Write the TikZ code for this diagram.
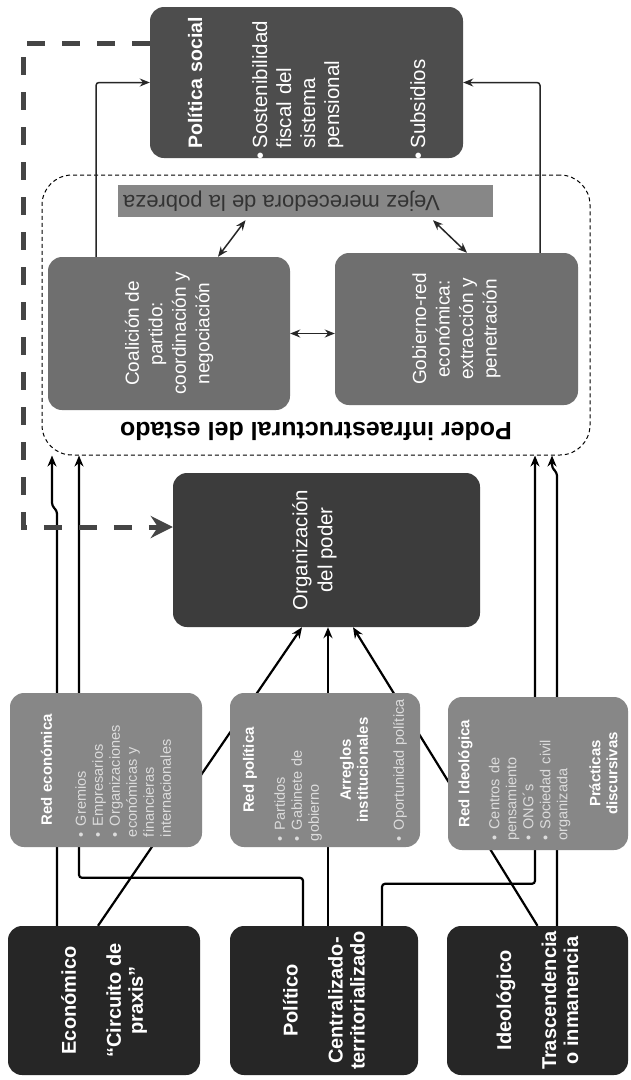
\documentclass[tikz,border=0pt]{standalone}
\usepackage{fontspec}
\setmainfont{Liberation Sans}
\usetikzlibrary{arrows.meta,backgrounds}
\definecolor{boxblack}{HTML}{262626}
\definecolor{orgcol}{HTML}{3C3C3C}
\definecolor{pscol}{HTML}{4D4D4D}
\definecolor{midcol}{HTML}{6F6F6F}
\definecolor{redcol}{HTML}{878787}
\definecolor{itemcol}{HTML}{DCDCDC}
\definecolor{dashcol}{HTML}{454545}
\newcommand\setfs[2]{\fontsize{#1}{#2}\selectfont}
\newcommand\bul[1]{\par\hangindent=11pt\hangafter=1\noindent\makebox[11pt][l]{\textbullet}#1\par}
\newcommand\bulp[1]{\par\noindent\llap{\textbullet\hspace{4pt}}#1\par}
\tikzset{
  panel/.style={rounded corners=14pt, inner sep=0pt},
  txt/.style={rotate=90, text=white, inner sep=0pt},
  arrowlink/.style={line width=2.2pt, rounded corners=3pt, -{Stealth[length=11pt,width=9pt]}},
  thinlink/.style={line width=1.5pt, draw=black!85, rounded corners=3pt, -{Stealth[length=10pt,width=8pt]}},
  dbl/.style={line width=1.5pt, draw=black!85, {Stealth[length=10pt,width=8pt]}-{Stealth[length=10pt,width=8pt]}},
  dashlink/.style={line width=5pt, draw=dashcol, dash pattern=on 18pt off 17pt, -{Stealth[length=22pt,width=22pt]}},
}
\begin{document}
\begin{tikzpicture}[x=1pt, y=-1pt]
    \useasboundingbox (0,0) rectangle (631,1080);

    \node[panel, fill=boxblack, minimum width=192pt, minimum height=149pt] (econ) at (104,1000.5) {};
    \node[panel, fill=boxblack, minimum width=188pt, minimum height=149pt] (pol) at (324,1000.5) {};
    \node[panel, fill=boxblack, minimum width=181pt, minimum height=149pt] (ideo) at (537.5,1000.5) {};
    \node[panel, fill=redcol, minimum width=192pt, minimum height=154pt] (rede) at (106,770) {};
    \node[panel, fill=redcol, minimum width=190pt, minimum height=154pt] (redp) at (325,770) {};
    \node[panel, fill=redcol, minimum width=180pt, minimum height=153pt] (redi) at (538,773.5) {};
    \node[panel, fill=orgcol, minimum width=307pt, minimum height=154pt] (org) at (326.5,550) {};
    \node[draw, dash pattern=on 4pt off 3pt, line width=1pt, rounded corners=30pt, minimum width=548pt, minimum height=280pt, inner sep=0pt] (poder) at (316,315) {};
    \node[panel, fill=midcol, minimum width=242pt, minimum height=153pt] (coal) at (169,333.5) {};
    \node[panel, fill=midcol, minimum width=243pt, minimum height=152pt] (gob) at (456.5,329) {};
    \node[fill=redcol, minimum width=375pt, minimum height=32pt, inner sep=0pt] (vejez) at (305.5,201) {};
    \node[panel, fill=pscol, minimum width=313pt, minimum height=151pt] (ps) at (306.5,82.5) {};

    \node[txt, align=center, font=\bfseries\setfs{20}{22}] (econT) at (econ) {Económico\\[23pt]“Circuito de\\praxis”};
    \node[txt, align=center, font=\bfseries\setfs{20}{22}] (polT) at (pol) {Político\\[23pt]Centralizado-\\territorializado};
    \node[txt, align=center, font=\bfseries\setfs{20}{22}] (ideoT) at (ideo) {Ideológico\\[23pt]Trascendencia\\o inmanencia};
    \node[txt, text=itemcol, text width=134pt, align=left, font=\setfs{14.5}{17}] (redeT) at (rede)
        {{\centering\bfseries\color{white}\setfs{15}{17}Red económica\par}\vspace{17pt}%
        \bul{Gremios}\bul{Empresarios}\bul{Organizaciones\\económicas y\\financieras\\internacionales}};
    \node[txt, text=itemcol, text width=142pt, align=left, font=\setfs{14.5}{17}] (redpT) at (redp)
        {{\centering\bfseries\color{white}\setfs{15}{17}Red política\par}\vspace{14pt}%
        \bul{Partidos}\bul{Gabinete de\\gobierno}\vspace{15pt}%
        {\centering\bfseries\color{white}\setfs{15}{17}Arreglos\\institucionales\par}\vspace{19pt}%
        \bul{Oportunidad política}};
    \node[txt, text=itemcol, text width=134pt, align=left, font=\setfs{14.5}{17}] (rediT) at (redi)
        {{\centering\bfseries\color{white}\setfs{15}{17}Red Ideológica\par}\vspace{13pt}%
        \bul{Centros de\\pensamiento}\bul{ONG´s}\bul{Sociedad civil\\organizada}\vspace{16pt}%
        {\centering\bfseries\color{white}\setfs{15}{17}Prácticas\\discursivas\par}};
    \node[txt, align=center, font=\setfs{20.5}{25}] (orgT) at ([xshift=-12pt]org.center) {Organización\\del poder};
    \node[txt, align=center, font=\setfs{19}{23.5}] (coalT) at (coal) {Coalición de\\partido:\\coordinación y\\negociación};
    \node[txt, align=center, font=\setfs{19}{23.5}] (gobT) at (gob) {Gobierno-red\\económica:\\extracción y\\penetración};
    \node[rotate=180, text=black!80, inner sep=0pt, font=\setfs{22}{24}] (vejezT) at ([xshift=-24pt]vejez.center) {Vejez merecedora de la pobreza};
    \node[rotate=180, inner sep=0pt, font=\bfseries\setfs{25}{27}] (poderT) at ([yshift=24pt]poder.south) {Poder infraestructural del estado};
    \node[txt, text width=140pt, align=left, font=\setfs{20.5}{24}] (psT) at ([yshift=4pt]ps.center)
        {{\bfseries\setfs{19.5}{24}Política social\par}\vspace{41pt}%
        \bulp{Sostenibilidad\\fiscal del\\sistema\\pensional}\vspace{62pt}%
        \bulp{Subsidios}};

    \begin{pgfonlayer}{background}
    \fill[white] (0,0) rectangle (631,1080);
    \draw[arrowlink] ([xshift=-6pt]econ.north) -- ([xshift=-24.5pt]org.south);
    \draw[arrowlink] ([xshift=4pt]pol.north) -- ([xshift=4pt]pol.north |- org.south);
    \draw[arrowlink] (ideo.north) -- ([xshift=26.5pt]org.south);
    \draw[arrowlink] ([xshift=-47pt]econ.north) -- ++(0,-415) -- ++(-5,-5) -- ([xshift=-52pt]econ.north |- poder.south);
    \draw[arrowlink] ([xshift=-21pt]pol.north) -- ++(0,-48) -| ([xshift=-25pt]econ.north |- poder.south);
    \draw[arrowlink] ([xshift=58pt]pol.north) -- ++(0,-42) -| ([xshift=-2.5pt]ideo.north |- poder.south);
    \draw[arrowlink] ([xshift=19.5pt]ideo.north) -- ++(0,-453) -- ++(-5,-5) -- ([xshift=14.5pt]ideo.north |- poder.south);
    \end{pgfonlayer}

    \draw[thinlink] ([xshift=-73pt]coal.north) |- (ps.west);
    \draw[thinlink] ([xshift=83.5pt]gob.north) |- (ps.east);
    \draw[dbl] ([xshift=49pt]coal.north) -- ([xshift=-60pt,yshift=-3pt]vejez.south);
    \draw[dbl] ([xshift=10.5pt]gob.north) -- ([xshift=127.5pt,yshift=-3pt]vejez.south);
    \draw[dbl] (coal.east) -- (coal.east -| gob.west);
    \draw[dashlink] ([yshift=39.5pt]ps.west) -- ++(-126,0) |- ([yshift=23pt]org.west);
\end{tikzpicture}
\end{document}
